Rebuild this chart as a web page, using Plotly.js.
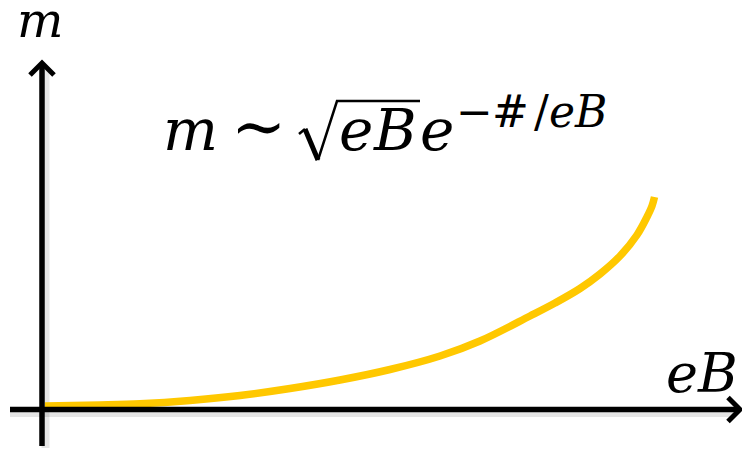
<!DOCTYPE html>
<html>
<head>
<meta charset="utf-8">
<script src="https://cdn.plot.ly/plotly-3.0.1.min.js"></script>
<style>
  html, body { margin: 0; padding: 0; background: #ffffff; }
  #chart { width: 742px; height: 449px; }
</style>
</head>
<body>
<div id="chart"></div>
<script>
// Schematic: mass gap m growing with field strength eB (arbitrary units)
const eB = [0.0049, 0.0946, 0.1599, 0.2414, 0.3230, 0.4046, 0.4861, 0.5677, 0.6493, 0.7145, 0.7961, 0.8369, 0.8777, 0.9103, 0.9429, 0.9706, 0.9869, 0.9951, 0.9992];
const m  = [0.0165, 0.0212, 0.0268, 0.0424, 0.0659, 0.0988, 0.1388, 0.1882, 0.2518, 0.3224, 0.4400, 0.5012, 0.5694, 0.6376, 0.7224, 0.8212, 0.9059, 0.9576, 1.0000];

const xLabel = '<i>eB</i>';
const yLabel = '<i>m</i>';

// Formula m ~ sqrt(eB) e^{-#/eB}, one glyph per entry so it can be spaced like typeset math
const formulaMain = ['<i>m</i>', '∼', '<i>e</i>', '<i>B</i>', '<i>e</i>'];
const formulaSup  = ['−', '#', '/', '<i>e</i>', '<i>B</i>'];

// Page geometry: plot fills the whole page, origin of the sketch axes in page pixels
const W = 742, H = 449;
const ORIGIN_X = 42, ORIGIN_Y = 409.5;
const UNIT_X = 613, UNIT_Y = 212.5;

// page pixel -> data units (for the hand-drawn axes) and -> paper units (for text)
const dx = px => (px - ORIGIN_X) / UNIT_X;
const dy = py => (ORIGIN_Y - py) / UNIT_Y;
const pxp = px => px / W;
const pyp = py => 1 - py / H;

const INK = '#000000';
const SHADOW = 'rgba(0,0,0,0.10)';
const SERIF = 'DejaVu Serif';

function seg(x1, y1, x2, y2, width, color, layer) {
  return { type: 'line', xref: 'x', yref: 'y', x0: dx(x1), y0: dy(y1), x1: dx(x2), y1: dy(y2),
           line: { color: color, width: width }, layer: layer || 'above' };
}
function poly(points, width, color, ref, layer) {
  const f = ref === 'paper' ? [pxp, pyp] : [dx, dy];
  const d = points.map((p, i) => (i ? 'L' : 'M') + f[0](p[0]) + ',' + f[1](p[1])).join(' ');
  return { type: 'path', xref: ref === 'paper' ? 'paper' : 'x', yref: ref === 'paper' ? 'paper' : 'y',
           path: d, line: { color: color, width: width }, layer: layer || 'above' };
}

const shapes = [
  // soft drop shadow under the axes
  seg(10, 413, 736, 413, 8, SHADOW, 'below'),
  seg(45.5, 448, 45.5, 70, 8, SHADOW, 'below'),
  // horizontal axis with open arrow head
  seg(10, ORIGIN_Y, 737, ORIGIN_Y, 5.5, INK),
  poly([[728, 397.5], [740, ORIGIN_Y], [728, 421.5]], 5, INK),
  // vertical axis with open arrow head
  seg(ORIGIN_X, 446, ORIGIN_X, 65, 5.5, INK),
  poly([[30, 75], [ORIGIN_X, 63], [54, 75]], 5, INK),
  // radical sign over eB in the formula
  poly([[299, 134], [305, 129]], 2.5, INK, 'paper'),
  poly([[305, 129], [318, 160]], 5, INK, 'paper'),
  poly([[318, 160], [337, 101], [420, 101]], 2.5, INK, 'paper')
];

// text centred on x, sitting on the given baseline (DejaVu metrics: box centre ~0.35 em above baseline)
function glyph(text, x, baseline, size) {
  return { text: text, xref: 'paper', yref: 'paper', x: pxp(x), y: pyp(baseline - 0.35 * size),
           xanchor: 'center', yanchor: 'middle', showarrow: false,
           font: { family: SERIF, size: size, color: INK } };
}

const F = 58, FS = 44, BASE = 150, SUPBASE = 127;
const mainX = [190, 258, 356, 395, 437];
const mainSize = [F, 66, F, F, F];
const supX  = [474, 511, 541, 562, 590];

const annotations = [
  glyph(yLabel, 40, 38, 49),
  glyph(xLabel, 702, 392, 54)
];
formulaMain.forEach((t, i) => annotations.push(glyph(t, mainX[i], BASE, mainSize[i])));
formulaSup.forEach((t, i) => annotations.push(glyph(t, supX[i], SUPBASE, FS)));

const curve = {
  x: eB, y: m, type: 'scatter', mode: 'lines',
  line: { color: '#FFC800', width: 7.5, shape: 'spline', smoothing: 1 },
  hoverinfo: 'skip'
};

const layout = {
  width: W, height: H,
  margin: { l: 0, r: 0, t: 0, b: 0, pad: 0 },
  paper_bgcolor: '#ffffff', plot_bgcolor: '#ffffff',
  showlegend: false,
  xaxis: { range: [dx(0), dx(W)], visible: false, fixedrange: true },
  yaxis: { range: [dy(H), dy(0)], visible: false, fixedrange: true },
  shapes: shapes,
  annotations: annotations
};

Plotly.newPlot('chart', [curve], layout, { staticPlot: true, displayModeBar: false });
</script>
</body>
</html>
